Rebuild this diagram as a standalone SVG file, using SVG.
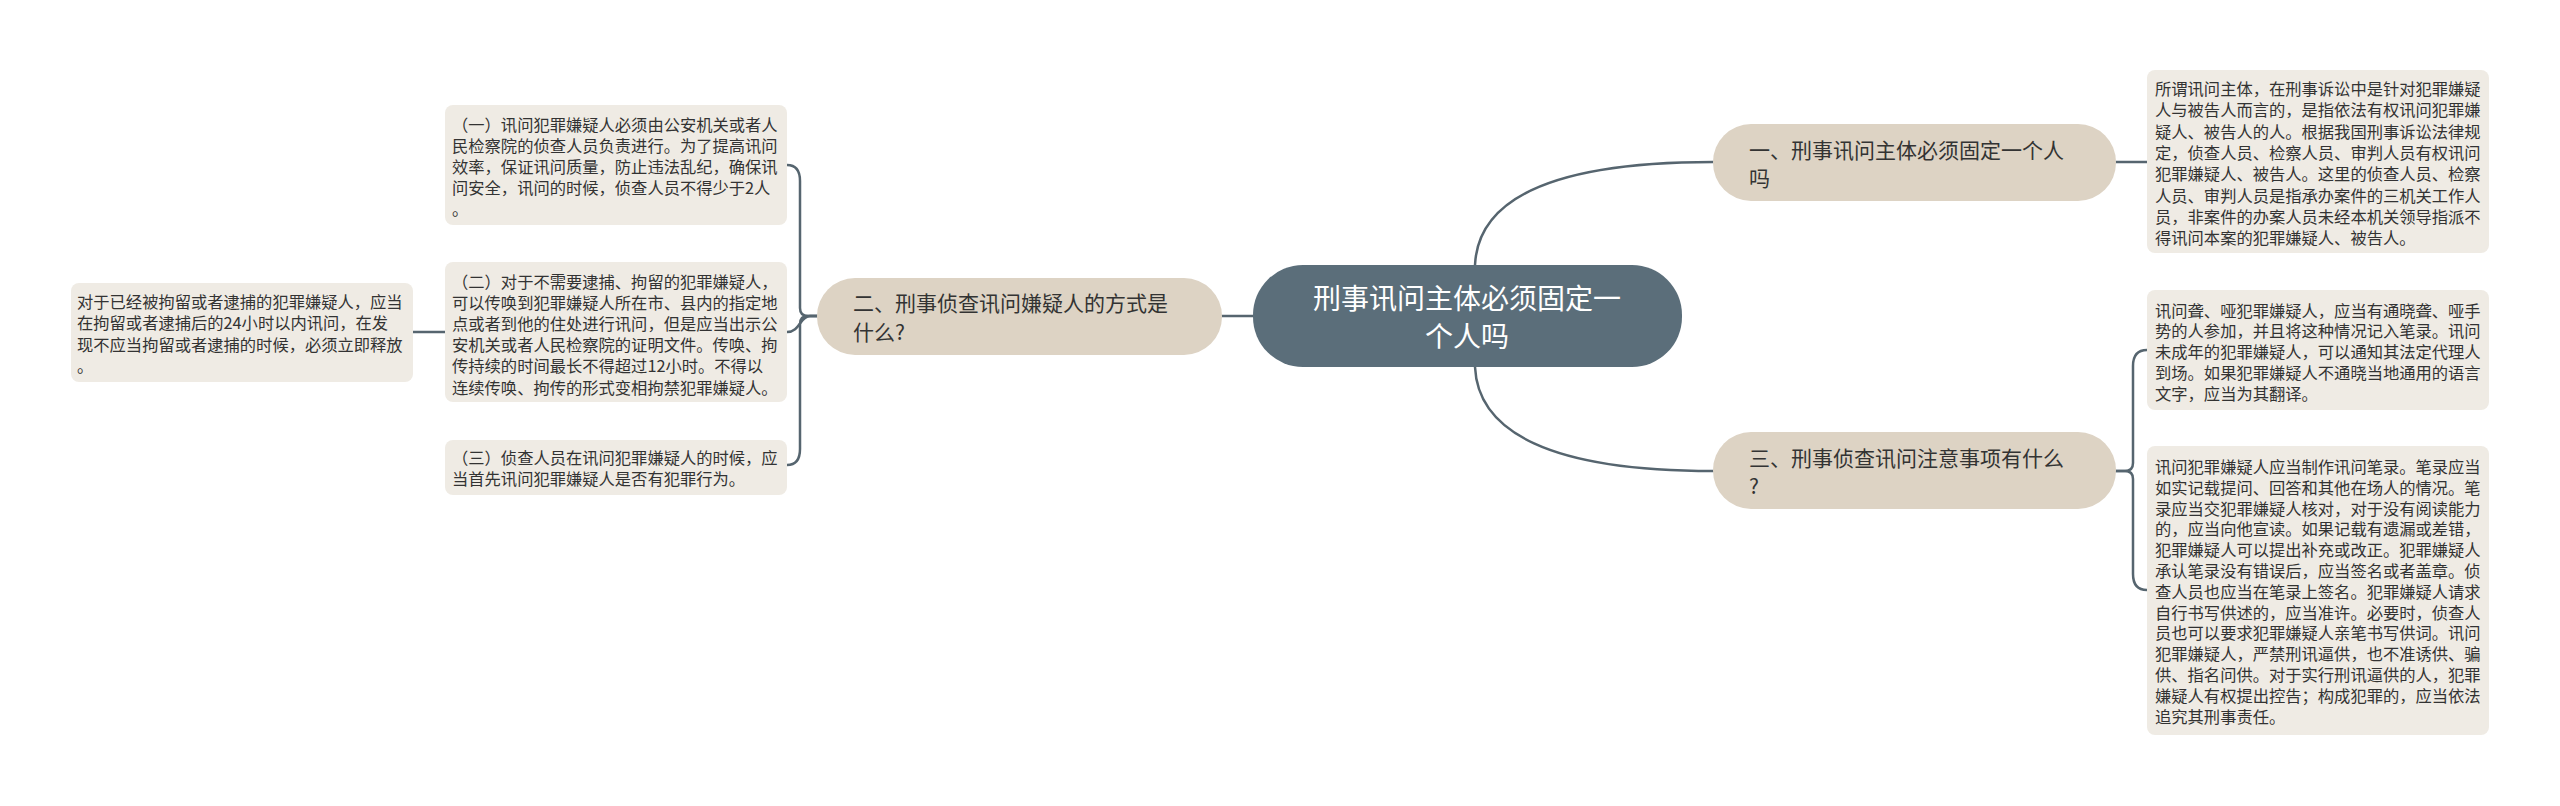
<svg xmlns="http://www.w3.org/2000/svg" width="2560" height="806" viewBox="0 0 2560 806">
<style>
.bg{fill:#ffffff}
.conn path{fill:none;stroke:#56656f;stroke-width:2.5;stroke-linecap:round}
.root rect{fill:#5b6e7a}
.root text{fill:#ffffff;font-family:"Noto Sans CJK SC","Noto Sans",sans-serif;font-size:28px;text-anchor:middle}
.br rect{fill:#ddd3c4}
.br text{fill:#333333;font-family:"Noto Sans CJK SC","Noto Sans",sans-serif;font-size:21px}
.lf rect{fill:#efebe4}
.lf text{fill:#333333;font-family:"Noto Sans CJK SC","Noto Sans",sans-serif;font-size:16.3px}
</style>
<rect class="bg" x="0" y="0" width="2560" height="806"/>
<g class="conn" id="connectors">
<path d="M1222,316 L1253,316"/>
<path d="M1475,265 C1478,200 1550,162 1713,162"/>
<path d="M1475,367 C1478,432 1550,471 1713,471"/>
<path d="M2116,162 L2147,162"/>
<path d="M2116,471 L2125,471 Q2133,471 2133,463 L2133,366 Q2133,350 2147,350"/>
<path d="M2116,471 L2125,471 Q2133,471 2133,479 L2133,574 Q2133,590 2147,590"/>
<path d="M817,316 L808,316 Q800,316 800,308 L800,181 Q800,165 787,165"/>
<path d="M817,316 L810,316 C800,316 800,332 787,332"/>
<path d="M817,316 L808,316 Q800,316 800,324 L800,449 Q800,465 787,465"/>
<path d="M445,332 L413,332"/>
</g>
<g class="root" id="root">
<rect x="1253" y="265" width="429" height="102" rx="50"/>
<text x="1467" y="309">刑事讯问主体必须固定一</text>
<text x="1467" y="347">个人吗</text>
</g>
<g class="br" id="branch1">
<rect x="1713" y="124" width="403" height="77" rx="38"/>
<text x="1749" y="158">一、刑事讯问主体必须固定一个人</text>
<text x="1749" y="186">吗</text>
</g>
<g class="br" id="branch2">
<rect x="817" y="278" width="405" height="77" rx="38"/>
<text x="853" y="311">二、刑事侦查讯问嫌疑人的方式是</text>
<text x="853" y="340">什么?</text>
</g>
<g class="br" id="branch3">
<rect x="1713" y="432" width="403" height="77" rx="38"/>
<text x="1749" y="466">三、刑事侦查讯问注意事项有什么</text>
<text x="1749" y="494">?</text>
</g>
<g class="lf" id="leaf-r1">
<rect x="2147" y="70" width="342" height="183" rx="8"/>
<text x="2155" y="95">所谓讯问主体，在刑事诉讼中是针对犯罪嫌疑</text>
<text x="2155" y="116.3">人与被告人而言的，是指依法有权讯问犯罪嫌</text>
<text x="2155" y="137.6">疑人、被告人的人。根据我国刑事诉讼法律规</text>
<text x="2155" y="158.9">定，侦查人员、检察人员、审判人员有权讯问</text>
<text x="2155" y="180.2">犯罪嫌疑人、被告人。这里的侦查人员、检察</text>
<text x="2155" y="201.5">人员、审判人员是指承办案件的三机关工作人</text>
<text x="2155" y="222.8">员，非案件的办案人员未经本机关领导指派不</text>
<text x="2155" y="244.1">得讯问本案的犯罪嫌疑人、被告人。</text>
</g>
<g class="lf" id="leaf-r2">
<rect x="2147" y="290" width="342" height="120" rx="8"/>
<text x="2155" y="316.5">讯问聋、哑犯罪嫌疑人，应当有通晓聋、哑手</text>
<text x="2155" y="337.3">势的人参加，并且将这种情况记入笔录。讯问</text>
<text x="2155" y="358.1">未成年的犯罪嫌疑人，可以通知其法定代理人</text>
<text x="2155" y="378.9">到场。如果犯罪嫌疑人不通晓当地通用的语言</text>
<text x="2155" y="399.7">文字，应当为其翻译。</text>
</g>
<g class="lf" id="leaf-r3">
<rect x="2147" y="446" width="342" height="289" rx="8"/>
<text x="2155" y="473">讯问犯罪嫌疑人应当制作讯问笔录。笔录应当</text>
<text x="2155" y="493.8">如实记载提问、回答和其他在场人的情况。笔</text>
<text x="2155" y="514.6">录应当交犯罪嫌疑人核对，对于没有阅读能力</text>
<text x="2155" y="535.4">的，应当向他宣读。如果记载有遗漏或差错，</text>
<text x="2155" y="556.2">犯罪嫌疑人可以提出补充或改正。犯罪嫌疑人</text>
<text x="2155" y="577">承认笔录没有错误后，应当签名或者盖章。侦</text>
<text x="2155" y="597.8">查人员也应当在笔录上签名。犯罪嫌疑人请求</text>
<text x="2155" y="618.6">自行书写供述的，应当准许。必要时，侦查人</text>
<text x="2155" y="639.4">员也可以要求犯罪嫌疑人亲笔书写供词。讯问</text>
<text x="2155" y="660.2">犯罪嫌疑人，严禁刑讯逼供，也不准诱供、骗</text>
<text x="2155" y="681">供、指名问供。对于实行刑讯逼供的人，犯罪</text>
<text x="2155" y="701.8">嫌疑人有权提出控告；构成犯罪的，应当依法</text>
<text x="2155" y="722.6">追究其刑事责任。</text>
</g>
<g class="lf" id="leaf-l1">
<rect x="445" y="105" width="342" height="120" rx="8"/>
<text x="452" y="130.5">（一）讯问犯罪嫌疑人必须由公安机关或者人</text>
<text x="452" y="151.5">民检察院的侦查人员负责进行。为了提高讯问</text>
<text x="452" y="172.5">效率，保证讯问质量，防止违法乱纪，确保讯</text>
<text x="452" y="193.5">问安全，讯问的时候，侦查人员不得少于2人</text>
<text x="452" y="214.5">。</text>
</g>
<g class="lf" id="leaf-l2">
<rect x="445" y="262" width="342" height="140" rx="8"/>
<text x="452" y="287.5">（二）对于不需要逮捕、拘留的犯罪嫌疑人，</text>
<text x="452" y="308.7">可以传唤到犯罪嫌疑人所在市、县内的指定地</text>
<text x="452" y="329.9">点或者到他的住处进行讯问，但是应当出示公</text>
<text x="452" y="351.1">安机关或者人民检察院的证明文件。传唤、拘</text>
<text x="452" y="372.3">传持续的时间最长不得超过12小时。不得以</text>
<text x="452" y="393.5">连续传唤、拘传的形式变相拘禁犯罪嫌疑人。</text>
</g>
<g class="lf" id="leaf-l3">
<rect x="445" y="440" width="342" height="55" rx="8"/>
<text x="452" y="464">（三）侦查人员在讯问犯罪嫌疑人的时候，应</text>
<text x="452" y="485">当首先讯问犯罪嫌疑人是否有犯罪行为。</text>
</g>
<g class="lf" id="leaf-l2a">
<rect x="71" y="283" width="342" height="99" rx="8"/>
<text x="77" y="308">对于已经被拘留或者逮捕的犯罪嫌疑人，应当</text>
<text x="77" y="329.3">在拘留或者逮捕后的24小时以内讯问，在发</text>
<text x="77" y="350.6">现不应当拘留或者逮捕的时候，必须立即释放</text>
<text x="77" y="371.9">。</text>
</g>
</svg>
